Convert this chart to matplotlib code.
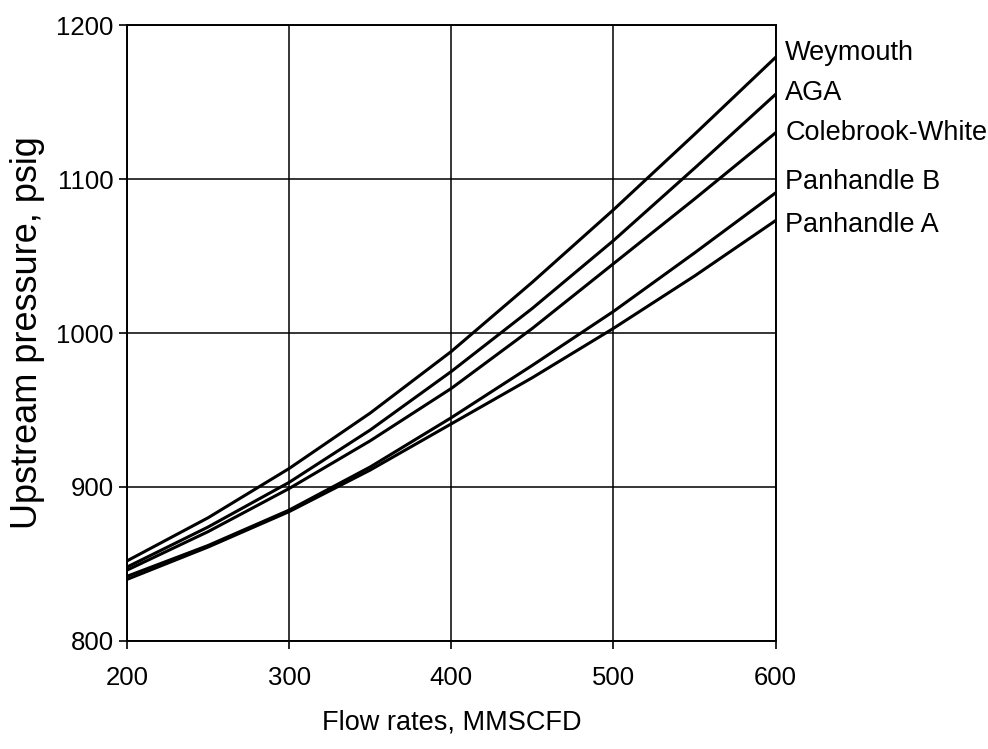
import matplotlib
matplotlib.use("Agg")
import matplotlib.pyplot as plt

plt.rcParams["font.family"] = ["Liberation Sans", "DejaVu Sans"]

# flow rates, MMSCFD
flow = [200, 250, 300, 350, 400, 450, 500, 550, 600]

# upstream pressure, psig
weymouth = [852, 880, 912, 948, 988, 1033, 1080, 1129, 1179]
aga = [848, 874, 903, 937, 975, 1016, 1060, 1107, 1155]
colebrook = [846, 871, 899, 930, 964, 1003, 1045, 1087, 1130]
panhandle_b = [842, 862, 885, 913, 945, 979, 1014, 1052, 1091]
panhandle_a = [840, 861, 884, 911, 941, 971, 1003, 1037, 1073]

series = [weymouth, aga, colebrook, panhandle_b, panhandle_a]
names_lbl = ["Weymouth", "AGA", "Colebrook-White", "Panhandle B", "Panhandle A"]
label_y = [1182, 1156, 1130, 1098, 1070]

xticks = [200, 300, 400, 500, 600]
yticks = [800, 900, 1000, 1100, 1200]

fig = plt.figure(figsize=(9.88, 7.49), dpi=100)
ax = fig.add_axes([0.1285, 0.1442, 0.6565, 0.8224])

for vals in series:
    ax.plot(flow, vals, color="black", linewidth=2.2, solid_joinstyle="round")

# labels at the right end of each curve
for name, y in zip(names_lbl, label_y):
    ax.annotate(name, xy=(600, y), xytext=(7, 0), textcoords="offset points",
                va="center", ha="left", fontsize=19.5, annotation_clip=False)

ax.set_xlim(200, 600)
ax.set_ylim(800, 1200)
ax.set_xticks(xticks)
ax.set_yticks(yticks)
ax.tick_params(axis="both", labelsize=18.5, direction="out", length=6, width=1.2, color="black")
ax.tick_params(axis="x", pad=12)
ax.grid(True, color="black", linewidth=1.1)
for s in ax.spines.values():
    s.set_linewidth(1.4)
    s.set_color("black")

ax.set_xlabel("Flow rates, MMSCFD", fontsize=19.5, labelpad=14)
ax.set_ylabel("Upstream pressure, psig", fontsize=26)
ax.yaxis.set_label_coords(-0.126, 0.5)

fig.savefig("out.png", dpi=100)
